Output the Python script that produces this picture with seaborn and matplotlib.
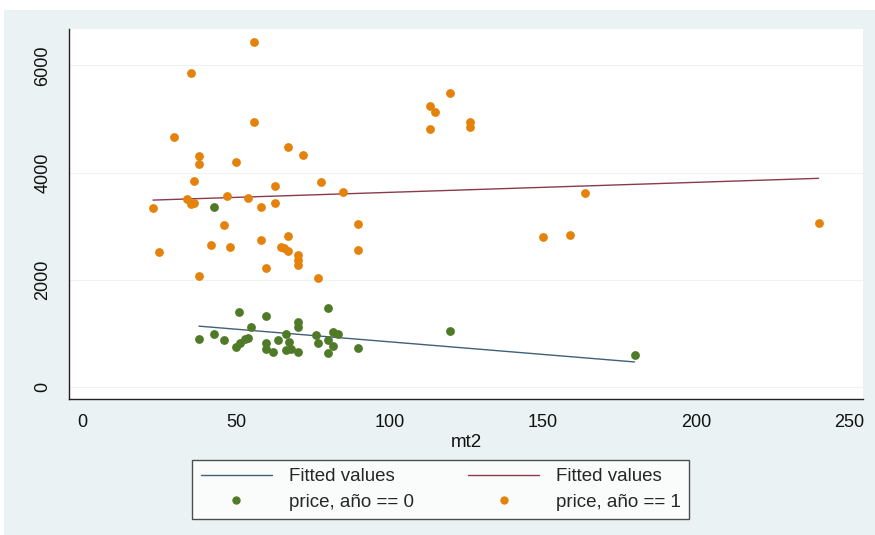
import numpy as np
import pandas as pd
import matplotlib
matplotlib.use("Agg")
import matplotlib.pyplot as plt
from matplotlib.patches import Rectangle
from matplotlib.lines import Line2D
import seaborn as sns

# price vs mt2, año == 1 (orange)
mt2_1 = [22.9, 24.9, 29.8, 35.2, 36.1, 33.9, 35.2, 36.3, 37.9, 37.9, 37.9, 41.7,
         46.0, 46.9, 48.1, 49.9, 53.9, 55.9, 55.9, 58.0, 58.0, 59.8, 62.8, 62.8,
         64.7, 66.9, 66.9, 66.9, 65.7, 70.2, 70.2, 70.2, 71.7, 76.8, 77.7, 84.9,
         89.8, 89.8, 113.1, 114.9, 113.1, 119.8, 126.1, 126.1, 163.6, 149.9,
         158.8, 239.9]
price_1 = [3346, 2515, 4669, 5861, 3838, 3502, 3415, 3439, 4309, 4160, 2073, 2645,
           3024, 3564, 2608, 4203, 3521, 6433, 4943, 3365, 2750, 2228, 3750, 3434,
           2620, 4477, 2813, 2545, 2590, 2465, 2372, 2279, 4322, 2031, 3819, 3644,
           3048, 2564, 5241, 5123, 4818, 5477, 4948, 4855, 3625, 2794,
           2837, 3055]

# price vs mt2, año == 0 (green)
mt2_0 = [42.9, 37.9, 42.8, 46.0, 50.9, 55.0, 49.9, 51.3, 52.8, 53.9, 59.8, 59.7,
         59.7, 61.9, 63.8, 66.1, 67.2, 66.1, 68.0, 70.2, 70.2, 70.2, 76.1, 76.8,
         80.1, 80.1, 80.1, 81.7, 83.1, 81.7, 89.8, 119.8, 179.9]
price_0 = [3365, 900, 987, 881, 1408, 1129, 757, 831, 894, 913, 1328, 831,
           714, 652, 881, 987, 850, 695, 714, 1222, 1129, 652, 974, 820,
           1483, 633, 881, 1036, 987, 775, 726, 1049, 602]

df = pd.DataFrame({
    "mt2": mt2_0 + mt2_1,
    "price": price_0 + price_1,
    "anio": [0] * len(mt2_0) + [1] * len(mt2_1),
})

green = "#4F7A28"
orange = "#E4820C"
navy = "#3F6079"
maroon = "#8B3A4C"

sns.set_style("white")
plt.rcParams["font.family"] = ["Liberation Sans", "DejaVu Sans"]

fig = plt.figure(figsize=(8.75, 5.35), dpi=100, facecolor="white")
fig.patches.append(Rectangle((4 / 875, 0), 1, 1 - 10 / 535, transform=fig.transFigure,
                             facecolor="#EAF2F3", edgecolor="none", zorder=-10))
ax = fig.add_axes([69.3 / 875, 1 - 399 / 535, (863.3 - 69.3) / 875, (399 - 29.3) / 535])
ax.set_facecolor("white")

d0 = df[df.anio == 0]
d1 = df[df.anio == 1]
sns.regplot(data=d0, x="mt2", y="price", scatter=False, ci=None, truncate=True,
            line_kws={"color": navy, "lw": 1.0}, ax=ax)
sns.regplot(data=d1, x="mt2", y="price", scatter=False, ci=None, truncate=True,
            line_kws={"color": maroon, "lw": 1.0}, ax=ax)
sns.scatterplot(data=d0, x="mt2", y="price", color=green, s=40, linewidth=0, ax=ax,
                zorder=3)
sns.scatterplot(data=d1, x="mt2", y="price", color=orange, s=40, linewidth=0, ax=ax,
                zorder=3)

ax.set_xlim(-4.4, 254.5)
ax.set_ylim(-218, 6670)
ax.set_xticks([0, 50, 100, 150, 200, 250])
ax.set_yticks([0, 2000, 4000, 6000])
ax.yaxis.grid(True, color="#EEF2F2", lw=0.8)
ax.set_axisbelow(True)
for s in ["top", "right"]:
    ax.spines[s].set_visible(False)
for s in ["left", "bottom"]:
    ax.spines[s].set_color("#222222")
    ax.spines[s].set_linewidth(1.0)
ax.tick_params(axis="both", direction="out", length=5, width=1, color="#222222",
               labelsize=13, labelcolor="#111111")
ax.tick_params(axis="x", pad=6)
ax.tick_params(axis="y", pad=8)
plt.setp(ax.get_yticklabels(), rotation=90, va="center")
ax.set_xlabel("mt2", fontsize=13.5, color="#111111", labelpad=2)
ax.set_ylabel("")

handles = [
    Line2D([], [], color=navy, lw=1.0),
    Line2D([], [], marker="o", color=green, ls="none", markersize=5),
    Line2D([], [], color=maroon, lw=1.0),
    Line2D([], [], marker="o", color=orange, ls="none", markersize=5),
]
labels = ["Fitted values", "price, año == 0", "Fitted values", "price, año == 1"]
leg = fig.legend(handles, labels, ncol=2, loc="center",
                 bbox_to_anchor=(440.8 / 875, 1 - 489.3 / 535),
                 fontsize=13.5, frameon=True, fancybox=False, handlelength=3.8,
                 columnspacing=2.9, labelspacing=0.45, borderpad=0.45,
                 handletextpad=0.9)
leg.get_frame().set_edgecolor("#222222")
leg.get_frame().set_linewidth(1.0)

fig.savefig("out.png", dpi=100, facecolor=fig.get_facecolor())
